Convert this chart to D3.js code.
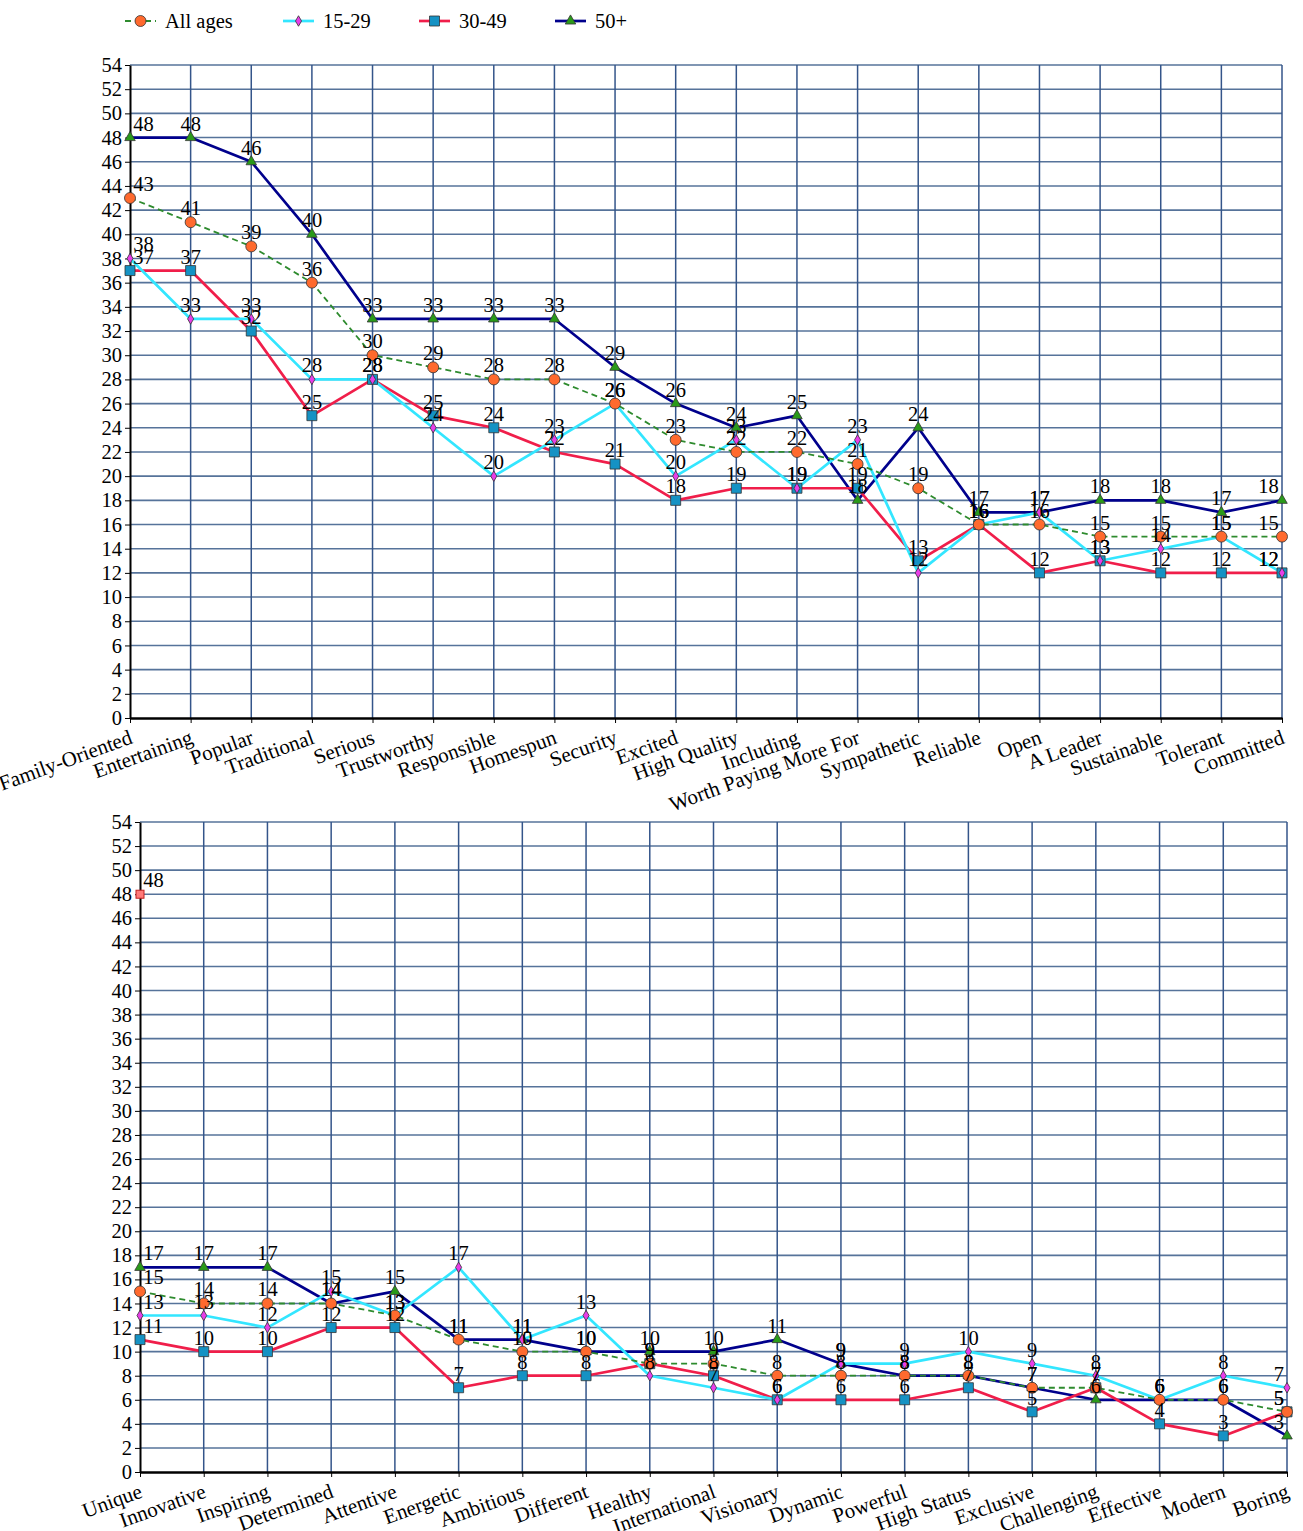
<!DOCTYPE html>
<html>
<head>
<meta charset="utf-8">
<script src="https://cdn.jsdelivr.net/npm/d3@7"></script>
<style>
  body { margin: 0; background: #fff; }
  svg text { font-family: "Liberation Serif", "DejaVu Serif", serif; fill: #000; }
</style>
</head>
<body>
<svg id="draw" width="1303" height="1531"></svg>
<script>
// ---------------------------------------------------------------------------
// data

var topCategories = ["Family-Oriented", "Entertaining", "Popular", "Traditional", "Serious",
    "Trustworthy", "Responsible", "Homespun", "Security", "Excited", "High Quality",
    "Including", "Worth Paying More For", "Sympathetic", "Reliable", "Open", "A Leader",
    "Sustainable", "Tolerant", "Committed"];
var topAllAges = [43, 41, 39, 36, 30, 29, 28, 28, 26, 23, 22, 22, 21, 19, 16, 16, 15, 15, 15, 15];
var top15to29  = [38, 33, 33, 28, 28, 24, 20, 23, 26, 20, 23, 19, 23, 12, 16, 17, 13, 14, 15, 12];
var top30to49  = [37, 37, 32, 25, 28, 25, 24, 22, 21, 18, 19, 19, 19, 13, 16, 12, 13, 12, 12, 12];
var top50plus  = [48, 48, 46, 40, 33, 33, 33, 33, 29, 26, 24, 25, 18, 24, 17, 17, 18, 18, 17, 18];

var bottomCategories = ["Unique", "Innovative", "Inspiring", "Determined", "Attentive",
    "Energetic", "Ambitious", "Different", "Healthy", "International", "Visionary",
    "Dynamic", "Powerful", "High Status", "Exclusive", "Challenging", "Effective",
    "Modern", "Boring"];
var bottomAllAges = [15, 14, 14, 14, 13, 11, 10, 10, 9, 9, 8, 8, 8, 8, 7, 7, 6, 6, 5];
var bottom15to29  = [13, 13, 12, 15, 13, 17, 11, 13, 8, 7, 6, 9, 9, 10, 9, 8, 6, 8, 7];
var bottom30to49  = [11, 10, 10, 12, 12, 7, 8, 8, 9, 8, 6, 6, 6, 7, 5, 7, 4, 3, 5];
var bottom50plus  = [17, 17, 17, 14, 15, 11, 11, 10, 10, 10, 11, 9, 8, 8, 7, 6, 6, 6, 3];
var bottomStray   = [48];   // lone marker on the first column

var yTicks = d3.range(0, 55, 2);
var seriesNames = ["All ages", "15-29", "30-49", "50+"];

// ---------------------------------------------------------------------------

var svg = d3.select("#draw");
var FONT = "20.5px";

var styles = {
    "All ages": { line: "#2e8b2e", width: 1.8, dash: "6,4", shape: d3.symbolCircle, size: 95, fill: "#ff6a2e" },
    "15-29":    { line: "#33e6ff", width: 2.7, dash: null, shape: d3.symbolDiamond, size: 32, fill: "#e83ee8" },
    "30-49":    { line: "#f01e4a", width: 2.7, dash: null, shape: d3.symbolSquare, size: 100, fill: "#1592c4" },
    "50+":      { line: "#00008c", width: 2.7, dash: null, shape: d3.symbolTriangle, size: 48, fill: "#2a9a1a" }
};

function drawLegend() {
    var xs = [125, 283, 419, 555];
    seriesNames.forEach(function (name, i) {
        var st = styles[name];
        var g = svg.append("g").attr("transform", `translate(${xs[i]},21)`);
        g.append("line")
            .attr("x1", 0).attr("x2", 31).attr("y1", 0).attr("y2", 0)
            .attr("stroke", st.line).attr("stroke-width", st.width)
            .attr("stroke-dasharray", st.dash);
        g.append("path")
            .attr("d", d3.symbol().type(st.shape).size(st.size))
            .attr("transform", "translate(15.5,0)")
            .attr("fill", st.fill).attr("stroke", "#333").attr("stroke-width", 0.8);
        g.append("text").attr("x", 40).attr("y", 7)
            .style("font-size", FONT).text(name);
    });
}

function drawChart(box, categories, series, stray) {
    var x = d3.scalePoint().domain(d3.range(categories.length)).range([box.left, box.right]);
    var y = d3.scaleLinear().domain([0, 54]).range([box.bottom, box.top]);
    var g = svg.append("g");

    // grid
    g.selectAll("line.h").data(yTicks.slice(1)).enter().append("line")
        .attr("x1", box.left).attr("x2", box.right)
        .attr("y1", (d) => y(d)).attr("y2", (d) => y(d))
        .attr("stroke", "#56739a").attr("stroke-width", 1.6);
    g.selectAll("line.v").data(d3.range(1, categories.length)).enter().append("line")
        .attr("x1", (d) => x(d)).attr("x2", (d) => x(d))
        .attr("y1", box.top).attr("y2", box.bottom)
        .attr("stroke", "#34558a").attr("stroke-width", 1.5);

    // axes
    var yAxis = d3.axisLeft(y).tickValues(yTicks).tickSize(5).tickSizeOuter(0);
    var ya = g.append("g").attr("transform", `translate(${box.left},0)`).call(yAxis);
    ya.attr("font-family", null).attr("font-size", null);
    ya.select(".domain").attr("stroke", "#000").attr("stroke-width", 2);
    ya.selectAll("line").attr("stroke", "#000");
    ya.selectAll("text").attr("x", -8).style("font-size", FONT);

    var xAxis = d3.axisBottom(x).tickSize(5).tickSizeOuter(0).tickFormat((i) => categories[i]);
    var xa = g.append("g").attr("transform", `translate(0,${box.bottom})`).call(xAxis);
    xa.attr("font-family", null).attr("font-size", null);
    xa.select(".domain").attr("stroke", "#000").attr("stroke-width", 2.4);
    xa.selectAll("line").attr("stroke", "#000");
    xa.selectAll("text")
        .attr("y", 0).attr("dy", null)
        .attr("text-anchor", "end")
        .attr("transform", "translate(3,25) rotate(-20)")
        .style("font-size", "21px");

    // lines
    var line = d3.line().x((d, i) => x(i)).y((d) => y(d));
    var order = ["50+", "30-49", "15-29", "All ages"];
    order.forEach(function (name) {
        var st = styles[name];
        g.append("path").datum(series[name])
            .attr("d", line).attr("fill", "none")
            .attr("stroke", st.line).attr("stroke-width", st.width)
            .attr("stroke-dasharray", st.dash)
            .attr("stroke-linejoin", "round");
    });
    // markers
    order.forEach(function (name) {
        var st = styles[name];
        g.selectAll(null).data(series[name]).enter().append("path")
            .attr("d", d3.symbol().type(st.shape).size(st.size))
            .attr("transform", (d, i) => `translate(${x(i)},${y(d)})`)
            .attr("fill", st.fill).attr("stroke", "#333").attr("stroke-width", 0.8);
    });
    if (stray) {
        g.selectAll(null).data(stray).enter().append("rect")
            .attr("x", (d, i) => x(i) - 4).attr("y", (d) => y(d) - 4)
            .attr("width", 8).attr("height", 8)
            .attr("fill", "#ff7a7a").attr("stroke", "#c02020").attr("stroke-width", 1);
    }

    // value labels, kept inside the plot
    var labels = [];
    order.forEach(function (name) {
        series[name].forEach((v, i) => labels.push({ v: v, i: i }));
    });
    if (stray) stray.forEach((v, i) => labels.push({ v: v, i: i }));
    g.selectAll("text.val").data(labels).enter().append("text")
        .attr("class", "val")
        .attr("x", function (d) {
            var half = String(d.v).length * 5.2;
            return Math.max(box.left + half + 3, Math.min(box.right - half - 3, x(d.i)));
        })
        .attr("y", (d) => y(d.v) - 7)
        .attr("text-anchor", "middle")
        .style("font-size", FONT)
        .text((d) => d.v);
}

drawLegend();
drawChart({ left: 130, right: 1282, top: 65, bottom: 718 }, topCategories,
    { "All ages": topAllAges, "15-29": top15to29, "30-49": top30to49, "50+": top50plus });
drawChart({ left: 140, right: 1287, top: 822, bottom: 1472 }, bottomCategories,
    { "All ages": bottomAllAges, "15-29": bottom15to29, "30-49": bottom30to49, "50+": bottom50plus },
    bottomStray);
</script>
</body>
</html>
